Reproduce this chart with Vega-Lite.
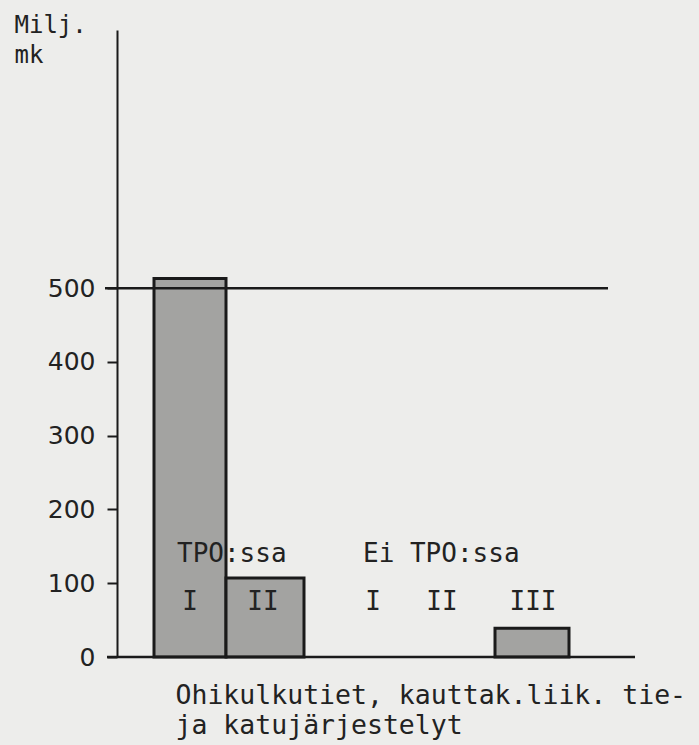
{
  "$schema": "https://vega.github.io/schema/vega-lite/v6.json",
  "width": 518,
  "height": 627,
  "autosize": {"type": "none"},
  "padding": {"left": 117, "top": 30, "right": 64, "bottom": 88},
  "background": "#ededeb",
  "config": {"view": {"stroke": null}},
  "datasets": {
    "bars": [
      {"group": "TPO:ssa", "cls": "I", "x0": 37, "x1": 109, "value": 513},
      {"group": "TPO:ssa", "cls": "II", "x0": 109, "x1": 187, "value": 107},
      {"group": "Ei TPO:ssa", "cls": "III", "x0": 378, "x1": 452, "value": 39}
    ],
    "labels": [
      {"text": "TPO:ssa", "x": 60, "y": 128.7},
      {"text": "Ei TPO:ssa", "x": 246, "y": 128.7}
    ],
    "numerals": [
      {"text": "I", "x": 73, "y": 63.7},
      {"text": "II", "x": 146, "y": 63.7},
      {"text": "I", "x": 256, "y": 63.7},
      {"text": "II", "x": 325, "y": 63.7},
      {"text": "III", "x": 416, "y": 63.7}
    ],
    "rules": [
      {"xa": -10, "xb": 518, "y": 0},
      {"xa": -12, "xb": 491, "y": 500}
    ]
  },
  "layer": [
    {
      "data": {"name": "bars"},
      "mark": {"type": "rect", "fill": "#a3a3a1", "stroke": "#1a1a1a", "strokeWidth": 3},
      "encoding": {
        "x": {
          "field": "x0", "type": "quantitative",
          "scale": {"domain": [0, 518], "nice": false, "zero": false},
          "axis": {
            "domain": false, "ticks": false, "labels": false, "grid": false,
            "title": ["Ohikulkutiet, kauttak.liik. tie-", "ja katujärjestelyt"],
            "titleFont": "DejaVu Sans Mono", "titleFontSize": 26.5, "titleFontWeight": "normal",
            "titleColor": "#222222", "titleAlign": "left", "titleAnchor": null,
            "titleBaseline": "alphabetic", "titleX": 58, "titleY": 46, "titleLineHeight": 30
          }
        },
        "x2": {"field": "x1"},
        "y": {
          "field": "value", "type": "quantitative",
          "scale": {"domain": [0, 850], "nice": false},
          "axis": {
            "values": [0, 100, 200, 300, 400, 500],
            "grid": false,
            "domainColor": "#1a1a1a", "domainWidth": 2,
            "tickColor": "#1a1a1a", "tickWidth": 2, "tickSize": 10,
            "labelFont": "DejaVu Sans", "labelFontSize": 25, "labelColor": "#222222",
            "labelPadding": 12,
            "title": ["Milj.", "mk"],
            "titleFont": "DejaVu Sans Mono", "titleFontSize": 24, "titleFontWeight": "normal",
            "titleColor": "#222222", "titleAngle": 0, "titleAlign": "left", "titleAnchor": null,
            "titleBaseline": "alphabetic", "titleX": -103, "titleY": 2, "titleLineHeight": 30
          }
        },
        "y2": {"datum": 0}
      }
    },
    {
      "data": {"name": "rules"},
      "mark": {"type": "rule", "stroke": "#1a1a1a", "strokeWidth": 2.5, "clip": false},
      "encoding": {
        "x": {"field": "xa", "type": "quantitative"},
        "x2": {"field": "xb"},
        "y": {"field": "y", "type": "quantitative"}
      }
    },
    {
      "data": {"name": "labels"},
      "mark": {"type": "text", "font": "DejaVu Sans Mono", "fontSize": 26, "color": "#222222", "baseline": "alphabetic", "align": "left"},
      "encoding": {
        "x": {"field": "x", "type": "quantitative"},
        "y": {"field": "y", "type": "quantitative"},
        "text": {"field": "text"}
      }
    },
    {
      "data": {"name": "numerals"},
      "mark": {"type": "text", "font": "DejaVu Sans Mono", "fontSize": 26, "color": "#222222", "baseline": "alphabetic", "align": "center"},
      "encoding": {
        "x": {"field": "x", "type": "quantitative"},
        "y": {"field": "y", "type": "quantitative"},
        "text": {"field": "text"}
      }
    }
  ]
}
